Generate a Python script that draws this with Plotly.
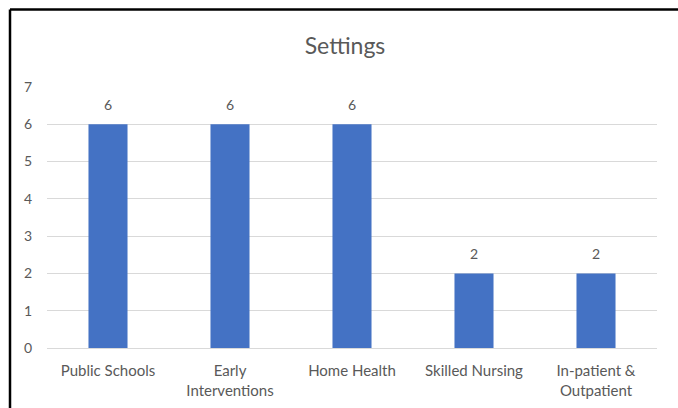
import plotly.graph_objects as go

categories = ["Public Schools", "Early<br>Interventions", "Home Health", "Skilled Nursing", "In-patient &<br>Outpatient"]
values = [6, 6, 6, 2, 2]
y_ticks = [0, 1, 2, 3, 4, 5, 6, 7]

FONT = "Lato"
GRAY = "#595959"

fig = go.Figure()
fig.add_trace(go.Bar(
    x=categories, y=values,
    marker=dict(color="#4472C4", line=dict(width=0)),
    width=0.32,
    hoverinfo="skip",
))

for c, v in zip(categories, values):
    fig.add_annotation(x=c, y=v, text=str(v), showarrow=False,
                       yshift=20, font=dict(family=FONT, size=14, color=GRAY))

fig.update_layout(
    width=678, height=408,
    margin=dict(l=47, r=21, t=87, b=60),
    paper_bgcolor="white", plot_bgcolor="white",
    showlegend=False,
    title=dict(text="Settings", x=345/678, xref="container", xanchor="center",
               y=1 - 46/408, yref="container", yanchor="middle",
               font=dict(family=FONT, size=23, color=GRAY)),
    xaxis=dict(showgrid=False, showline=True, linecolor="#d9d9d9", linewidth=1,
               tickfont=dict(family=FONT, size=15, color=GRAY),
               ticklabelstandoff=9, fixedrange=True, automargin=False),
    yaxis=dict(range=[0, 7], tickvals=y_ticks, showgrid=True, gridcolor="#d9d9d9",
               gridwidth=1, zeroline=False, showline=False,
               tickfont=dict(family=FONT, size=14, color=GRAY),
               ticklabelstandoff=14, fixedrange=True, automargin=False),
    shapes=[
        dict(type="line", xref="paper", yref="paper",
             x0=(10 - 47) / 610, x1=(10 - 47) / 610, y0=-0.3, y1=(348 - 9.5) / 261,
             line=dict(color="black", width=2.5)),
        dict(type="line", xref="paper", yref="paper",
             x0=(10 - 47) / 610, x1=1.1, y0=(348 - 9.5) / 261, y1=(348 - 9.5) / 261,
             line=dict(color="black", width=2.5)),
    ],
)

fig.write_html("out.html")
